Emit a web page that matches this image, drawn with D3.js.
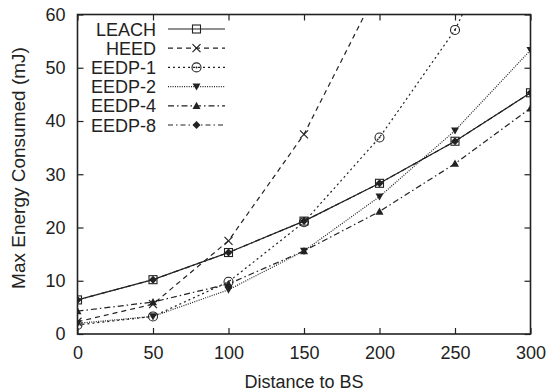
<!DOCTYPE html>
<html>
<head>
<meta charset="utf-8">
<script src="https://cdn.jsdelivr.net/npm/d3@7"></script>
<style>
  html, body { margin: 0; padding: 0; background: #fff; }
  svg { display: block; font-family: "Liberation Sans", Arial, sans-serif; }
</style>
</head>
<body>
<svg id="chart" width="549" height="392"></svg>
<script>
// Distance to base station (x) and max energy per protocol (mJ)
const distances = [0, 50, 100, 150, 200, 250, 300];
const leach = [6.4, 10.2, 15.3, 21.2, 28.3, 36.2, 45.3];
const heed  = [2.3, 5.6, 17.5, 37.5, 65.4];
const eedp1 = [1.7, 3.3, 9.8, 21.0, 36.9, 57.1, 87.0];
const eedp2 = [2.0, 3.3, 8.3, 15.6, 25.8, 38.2, 53.3];
const eedp4 = [4.3, 6.0, 9.4, 15.6, 23.0, 32.0, 42.4];
const eedp8 = [6.4, 10.2, 15.3, 21.2, 28.3, 36.2, 45.3];
const seriesNames = ["LEACH", "HEED", "EEDP-1", "EEDP-2", "EEDP-4", "EEDP-8"];
const xTicks = [0, 50, 100, 150, 200, 250, 300];
const yTicks = [0, 10, 20, 30, 40, 50, 60];

const series = [
  { name: seriesNames[0], values: leach, dash: null,            marker: "square" },
  { name: seriesNames[1], values: heed,  dash: "5,4",           marker: "cross" },
  { name: seriesNames[2], values: eedp1, dash: "2,3",           marker: "circle" },
  { name: seriesNames[3], values: eedp2, dash: "1,1.3",         marker: "down" },
  { name: seriesNames[4], values: eedp4, dash: "6,3,1.5,3",     marker: "up" },
  { name: seriesNames[5], values: eedp8, dash: "5,3,1.5,3",     marker: "diamond" }
];

const svg = d3.select("#chart");
const L = 77.5, R = 530.5, T = 14.5, B = 334;
const x = d3.scaleLinear().domain([0, 300]).range([L, R]);
const y = d3.scaleLinear().domain([0, 60]).range([B, T]);
const ink = "#222";
const fs = "18px";

svg.append("defs").append("clipPath").attr("id", "plotclip")
  .append("rect").attr("x", L).attr("y", T).attr("width", R - L).attr("height", B - T);

// axes with inward ticks on all four sides
const tl = 6;
svg.append("g").attr("transform", `translate(0,${B})`)
  .call(d3.axisBottom(x).tickValues(xTicks).tickSizeInner(-tl).tickSizeOuter(0).tickPadding(12))
  .call(g => g.select(".domain").remove());
svg.append("g").attr("transform", `translate(0,${T})`)
  .call(d3.axisTop(x).tickValues(xTicks).tickSizeInner(-tl).tickSizeOuter(0).tickFormat(""))
  .call(g => g.select(".domain").remove());
svg.append("g").attr("transform", `translate(${L},0)`)
  .call(d3.axisLeft(y).tickValues(yTicks).tickSizeInner(-tl).tickSizeOuter(0).tickPadding(12))
  .call(g => g.select(".domain").remove());
svg.append("g").attr("transform", `translate(${R},0)`)
  .call(d3.axisRight(y).tickValues(yTicks).tickSizeInner(-tl).tickSizeOuter(0).tickFormat(""))
  .call(g => g.select(".domain").remove());
svg.selectAll(".tick line").attr("stroke", ink).attr("stroke-width", 1.2);
svg.selectAll(".tick text").attr("fill", ink).style("font-size", fs)
  .style("font-family", "'Liberation Sans', Arial, sans-serif");

svg.append("rect").attr("x", L).attr("y", T).attr("width", R - L).attr("height", B - T)
  .attr("fill", "none").attr("stroke", ink).attr("stroke-width", 1.6);

svg.append("text").attr("x", (L + R) / 2).attr("y", 388).attr("text-anchor", "middle")
  .attr("fill", ink).style("font-size", fs).text("Distance to BS");
svg.append("text").attr("transform", "translate(25,168) rotate(-90)")
  .attr("text-anchor", "middle").attr("fill", ink).style("font-size", "19px")
  .text("Max Energy Consumed (mJ)");

function drawMarker(g, type, cx, cy) {
  const s = 4;
  if (type === "square") {
    g.append("rect").attr("x", cx - s).attr("y", cy - s).attr("width", 2 * s).attr("height", 2 * s)
      .attr("fill", "none").attr("stroke", ink).attr("stroke-width", 1.1);
  } else if (type === "cross") {
    g.append("path").attr("d", `M${cx - s},${cy - s}L${cx + s},${cy + s}M${cx - s},${cy + s}L${cx + s},${cy - s}`)
      .attr("stroke", ink).attr("stroke-width", 1.2);
  } else if (type === "circle") {
    g.append("circle").attr("cx", cx).attr("cy", cy).attr("r", s + 0.5)
      .attr("fill", "none").attr("stroke", ink).attr("stroke-width", 1.1);
    g.append("circle").attr("cx", cx).attr("cy", cy).attr("r", 1).attr("fill", ink);
  } else if (type === "down") {
    g.append("path").attr("d", `M${cx - s},${cy - s * 0.8}L${cx + s},${cy - s * 0.8}L${cx},${cy + s}Z`).attr("fill", ink);
  } else if (type === "up") {
    g.append("path").attr("d", `M${cx - s},${cy + s * 0.8}L${cx + s},${cy + s * 0.8}L${cx},${cy - s}Z`).attr("fill", ink);
  } else if (type === "diamond") {
    g.append("path").attr("d", `M${cx},${cy - s}L${cx + s},${cy}L${cx},${cy + s}L${cx - s},${cy}Z`).attr("fill", ink);
  }
}

const plot = svg.append("g").attr("clip-path", "url(#plotclip)");
const line = d3.line().x((d, i) => x(distances[i])).y(d => y(d));

// draw from last to first so LEACH sits on top
series.slice().reverse().forEach(s => {
  plot.append("path").datum(s.values).attr("d", line)
    .attr("fill", "none").attr("stroke", ink).attr("stroke-width", 1.2)
    .attr("stroke-dasharray", s.dash);
});
series.slice().reverse().forEach(s => {
  const g = plot.append("g");
  s.values.forEach((v, i) => drawMarker(g, s.marker, x(distances[i]), y(v)));
});

// legend
const lg = svg.append("g");
series.forEach((s, i) => {
  const cy = 29 + i * 19.2;
  lg.append("text").attr("x", 156).attr("y", cy + 6.5).attr("text-anchor", "end")
    .attr("fill", ink).style("font-size", fs).text(s.name);
  lg.append("line").attr("x1", 168).attr("x2", 225).attr("y1", cy).attr("y2", cy)
    .attr("stroke", ink).attr("stroke-width", 1.2).attr("stroke-dasharray", s.dash);
  drawMarker(lg, s.marker, 196.5, cy);
});
</script>
</body>
</html>
